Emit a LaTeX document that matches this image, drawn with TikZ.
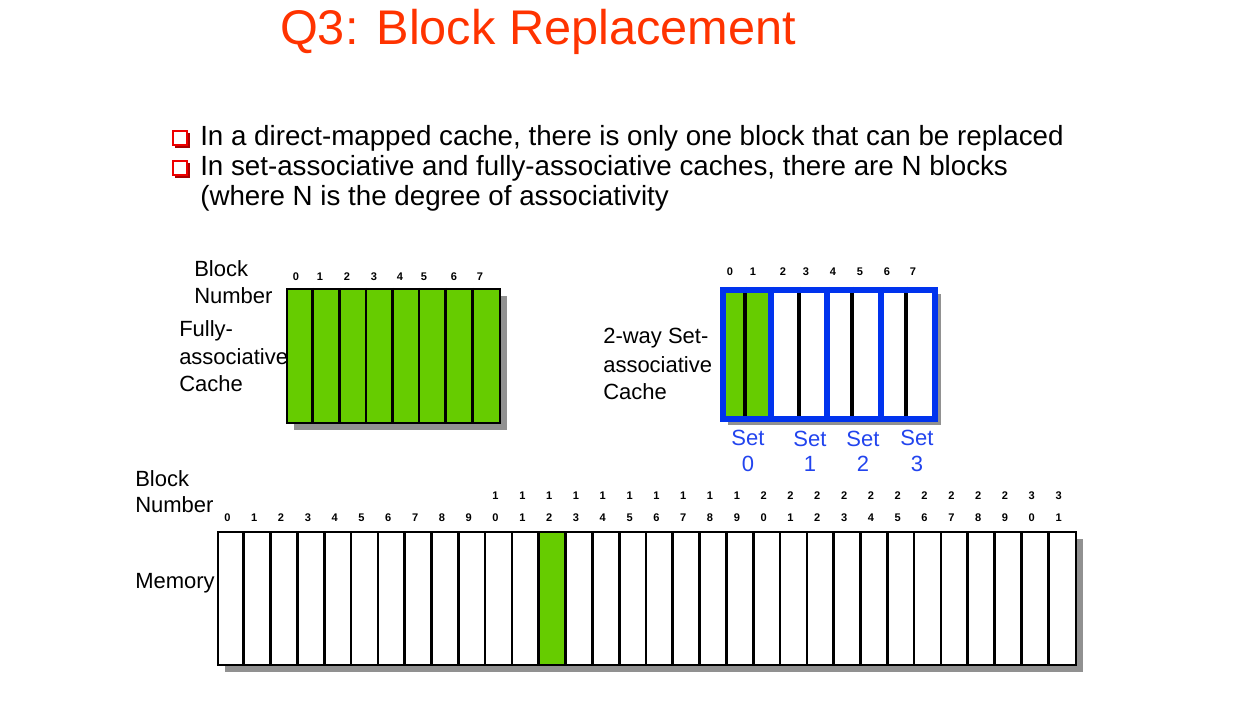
\documentclass[tikz,border=0pt]{standalone}
\usepackage{fontspec}
\setmainfont{Liberation Sans}
\definecolor{titlec}{HTML}{FF3300}
\definecolor{cgreen}{HTML}{66CC00}
\definecolor{cblue}{HTML}{0033EE}
\definecolor{sblue}{HTML}{2244EE}
\definecolor{shadowc}{HTML}{919191}
\definecolor{bulletc}{HTML}{EE0000}
\definecolor{bulletd}{HTML}{AA0000}
\begin{document}
\begin{tikzpicture}[x=0.75pt,y=-0.75pt,
  lbl/.style={font=\fontsize{16.5}{18}\selectfont, anchor=west, inner sep=0},
  num/.style={font=\fontsize{8.3}{9}\selectfont\bfseries, inner sep=0},
  setlbl/.style={font=\fontsize{16.5}{18}\selectfont, text=sblue, inner sep=0, align=center},
  bul/.style={font=\fontsize{20.8}{24}\selectfont, anchor=west, inner sep=0},
  shadowfill/.style={fill=shadowc},
  cellline/.style={line width=2pt, black},
  bluebar/.style={line width=4.5pt, cblue},
  bsq/.style={draw=bulletc, fill=white, line width=1.5pt, minimum size=10.5pt, inner sep=0}
]
\useasboundingbox (0,0) rectangle (1254,706);

% title
\node[font=\fontsize{36.5}{40}\selectfont, text=titlec, inner sep=0] (title) at (538,32) {Q3: Block Replacement};

% bullets
\fill[bulletd] (175,133) rectangle (190,148);
\node[bsq] (b1) at (180,138) {};
\fill[bulletd] (175,163) rectangle (190,178);
\node[bsq] (b2) at (180,168) {};
\node[bul] (t1) at (200,138) {In a direct-mapped cache, there is only one block that can be replaced};
\node[bul] (t2) at (200,168) {In set-associative and fully-associative caches, there are N blocks};
\node[bul] (t3) at (200,198) {(where N is the degree of associativity};

% fully associative cache
\fill[shadowfill] (294,296) rectangle (507,430);
\fill[cgreen] (286,288) rectangle (499,422);
\foreach \i in {1,...,7} \draw[cellline] ({286+26.625*\i},288) -- ({286+26.625*\i},422);
\node[draw, line width=1.8pt, minimum width=159.75pt, minimum height=100.5pt, inner sep=0, anchor=north west] (fa) at (286,288) {};
\node[lbl] (fabn1) at (194,269) {Block};
\node[lbl] (fabn2) at (194,296) {Number};
\node[lbl] (fal1) at (179,331) {Fully-};
\node[lbl] (fal2) at (179,357) {associative};
\node[lbl] (fal3) at (179,384) {Cache};
\foreach \x [count=\n from 0] in {296,320,347,374,400,424,454,480}
  \node[num] (fan\n) at (\x,277) {\n};

% 2-way set-associative cache
\fill[shadowfill] (728,294) rectangle (941,425);
\fill[white] (720,287) rectangle (932,416);
\fill[cgreen] (720,287) rectangle (771,416);
\foreach \x in {745,799,852,906} \draw[line width=2.3pt] (\x,287) -- (\x,416);
\foreach \x in {771,827,881} \draw[bluebar] (\x,287) -- (\x,416);
\node[draw=cblue, line width=4.5pt, minimum width=159pt, minimum height=96.75pt, inner sep=0, anchor=north west] (sa) at (720,287) {};
\foreach \x [count=\n from 0] in {730,753,783,806,833,860,887,913}
  \node[num] (san\n) at (\x,272) {\n};
\node[lbl] (sal1) at (603,338) {2-way Set-};
\node[lbl] (sal2) at (603,365) {associative};
\node[lbl] (sal3) at (603,392) {Cache};
\foreach \x/\s in {748/0,810/1,863/2,917/3}
  \node[setlbl] (set\s) at (\x,451) {Set\\[1pt]\s};

% memory
\fill[shadowfill] (225,539) rectangle (1083,672);
\fill[white] (217,531) rectangle (1075,664);
\fill[cgreen] ({217+26.8125*12},531) rectangle ({217+26.8125*13},664);
\foreach \i in {1,...,31} \draw[cellline] ({217+26.8125*\i},531) -- ({217+26.8125*\i},664);
\node[draw, line width=1.8pt, minimum width=643.5pt, minimum height=99.75pt, inner sep=0, anchor=north west] (mem) at (217,531) {};
\node[lbl] (mbn1) at (135,479) {Block};
\node[lbl] (mbn2) at (135,505) {Number};
\node[lbl] (ml) at (135,583) {Memory};
\foreach \i in {0,...,31} {
  \pgfmathtruncatemacro{\tens}{int(\i/10)}
  \pgfmathtruncatemacro{\ones}{mod(\i,10)}
  \node[num] (mo\i) at ({217+26.8125*(\i+0.5)-3},518) {\ones};
  \ifnum\tens>0 \node[num] (mt\i) at ({217+26.8125*(\i+0.5)-3},496) {\tens}; \fi
}
\end{tikzpicture}
\end{document}
